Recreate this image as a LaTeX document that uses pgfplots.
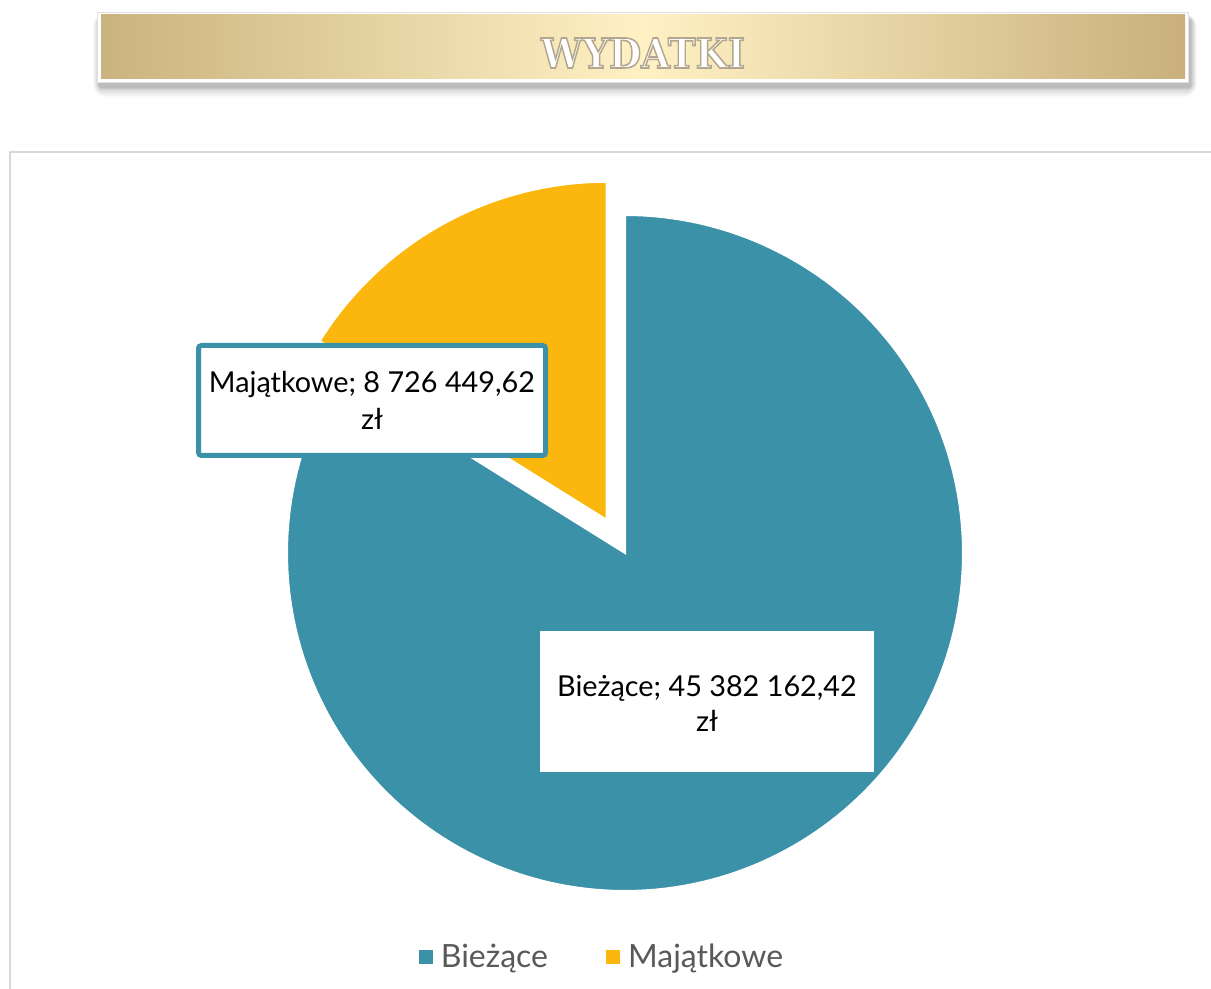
\documentclass[border=0pt]{standalone}
\usepackage{pgfplots}
\pgfplotsset{compat=1.18}
\usepackage{fontspec}
\setmainfont{Lato}
\newfontfamily\titlefont{DejaVu Serif}
\definecolor{bteal}{HTML}{3A91A8}
\definecolor{mgold}{HTML}{FBB70D}
\definecolor{lgrey}{HTML}{595959}
\definecolor{framegrey}{HTML}{D9D9D9}
\definecolor{banL}{HTML}{CAB37F}
\definecolor{banM}{HTML}{FFF1C4}
\definecolor{banR}{HTML}{C9B07D}
% data (values in PLN)
\def\vB{45.38216242}% Biezace, millions
\def\vM{8.72644962}% Majatkowe, millions
\pgfmathsetmacro\aM{360*\vM/(\vB+\vM)}
\pgfmathsetmacro\aEnd{90+\aM}
\pgfmathsetmacro\aMid{90+\aM/2}
\pgfmathsetmacro\cxM{625+38*cos(\aMid)}
\pgfmathsetmacro\cyM{553-38*sin(\aMid)}
\begin{document}
\begin{tikzpicture}
\begin{axis}[name=ax, scale only axis, width=605.5pt, height=494.5pt,
  xmin=0, xmax=1211, ymin=0, ymax=989, y dir=reverse, hide axis, clip=false,
  legend style={at={(axis cs:603,957)}, anchor=center, draw=none, fill=none,
    font=\fontsize{16}{16}\selectfont\color{lgrey},
    /tikz/every even column/.append style={column sep=27pt}},
  legend columns=-1,
  legend image code/.code={\fill[#1, draw=none] (0pt,-3.5pt) rectangle (7pt,3.5pt); \path[draw=none, fill=none] (0pt,0pt) -- (9pt,0pt);},
]
% chart frame
\draw[framegrey, line width=1pt] (1211,152) -- (10,152) -- (10,989);
% banner shadow (soft)
\fill[black, opacity=0.05, rounded corners=1pt] (99,19) rectangle (1191,88);
\fill[black, opacity=0.05, rounded corners=2pt] (98,18) rectangle (1192,89);
\fill[black, opacity=0.05, rounded corners=3pt] (97,17) rectangle (1193,90);
\fill[black, opacity=0.05, rounded corners=4pt] (96,16) rectangle (1194,92);
\fill[black, opacity=0.04, rounded corners=5pt] (95,15) rectangle (1195,94);
\fill[black, opacity=0.03, rounded corners=6pt] (94,14) rectangle (1196,96);
\fill[black, opacity=0.02, rounded corners=7pt] (93,13) rectangle (1197,98);
\filldraw[fill=white, draw=black!12, line width=0.4pt] (97,12) rectangle (1188,82);
\shade[left color=banL, right color=banR, middle color=banM] (101,15) rectangle (1185,79);
% title (white letters with a soft grey outline)
\node[text=white, font=\titlefont\bfseries\fontsize{20.6}{22}\selectfont, xscale=0.9] at (643,53)
  {\special{pdf:code 2 Tr 0.8 w 0.70 0.65 0.56 RG}WYDATKI\special{pdf:code 0 Tr}};
% pie slices
\addplot[fill=bteal, draw=white, line width=1pt, domain=\aEnd:450, samples=200, variable=\t]
  ({625+338*cos(\t)},{553-338*sin(\t)}) -- (625,553) -- cycle;
\addlegendentry{Bieżące}
\addplot[fill=mgold, draw=white, line width=1pt, domain=90:\aEnd, samples=80, variable=\t]
  ({\cxM+338*cos(\t)},{\cyM-338*sin(\t)}) -- (\cxM,\cyM) -- cycle;
\addlegendentry{Majątkowe}
% data labels
\draw[bteal, line width=2.5pt, fill=white, rounded corners=1.5pt] (198.5,345.5) rectangle (545.5,455.5);
\node[align=center, font=\fontsize{14.4}{18.5}\selectfont, text=black] at (372,400) {Majątkowe; 8 726 449,62\\zł};
\fill[white] (540,631) rectangle (874,772);
\node[align=center, font=\fontsize{14.4}{17.5}\selectfont, text=black] at (707,703) {Bieżące; 45 382 162,42\\zł};
\end{axis}
\pgfresetboundingbox
\path[use as bounding box] (ax.south west) rectangle (ax.north east);
\end{tikzpicture}
\end{document}
